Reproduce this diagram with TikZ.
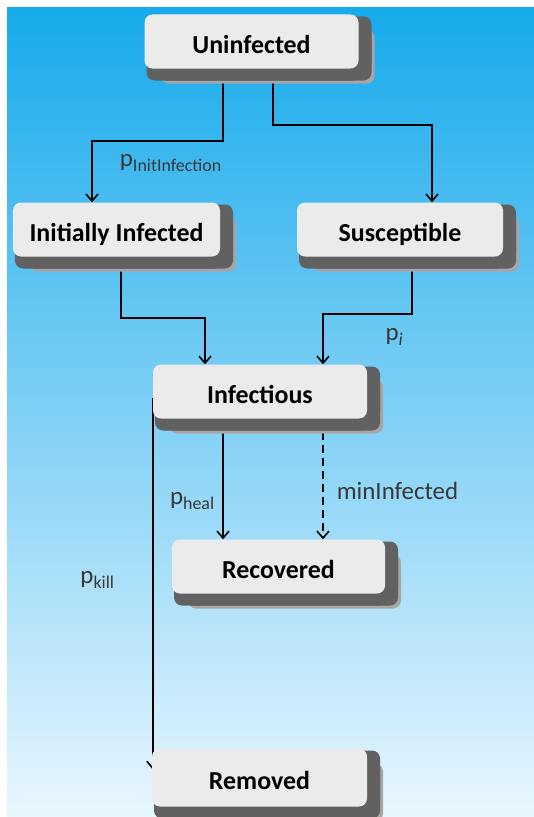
\documentclass[tikz,border=0pt]{standalone}
\usepackage{fontspec}
\setmainfont{Carlito}
\usetikzlibrary{shadows,arrows.meta}
\definecolor{skytop}{RGB}{22,170,236}
\definecolor{skymid}{RGB}{150,210,245}
\definecolor{skybot}{RGB}{233,246,254}
\definecolor{labelgray}{RGB}{55,55,55}
\newcommand{\lsub}[1]{\raisebox{-5bp}{\fontsize{18}{20}\selectfont #1}}
\pgfdeclarelayer{bg}
\pgfdeclarelayer{edges}
\pgfsetlayers{bg,edges,main}

\begin{document}
\begin{tikzpicture}[x=1bp,y=-1bp,
     >={Straight Barb[length=7bp,width=12bp]},
     shade1/.style = {fill=black!35, opacity=1},
     shade2/.style = {fill=black!62, opacity=1},
     button/.style = {rectangle, rounded corners=8bp, fill=black!8,
      minimum width=214bp, minimum height=54bp, inner sep=0pt,
      text height=30bp, text depth=6bp,
      font=\fontsize{26}{30}\selectfont\bfseries,
      drop shadow={shadow xshift=16bp, shadow yshift=-15bp, shade1},
      drop shadow={shadow xshift=13bp, shadow yshift=-2bp, shade2},
      drop shadow={shadow xshift=2bp, shadow yshift=-12bp, shade2},
      drop shadow={shadow xshift=13bp, shadow yshift=-12bp, shade2}},
     link/.style = {draw, ->, line width=1.6bp},
     prob/.style = {text=labelgray, font=\fontsize{25}{28}\selectfont, inner sep=2bp}
    ]
    \useasboundingbox (0,0) rectangle (534,817);

    \node [button] (unin) at (251.5,41.5) {Uninfected};
    \node [button, minimum width=207bp, below of=unin, node distance=188bp, xshift=-135bp] (initinf) {Initially Infected};
    \node [button, minimum width=206bp, right of=initinf, node distance=283.5bp] (susc) {Susceptible};
    \node [button, below of=initinf, node distance=162bp, xshift=143.5bp] (infect) {Infectious};
    \node [button, minimum width=213bp, below of=infect, node distance=175bp, xshift=18.5bp] (recov) {Recovered};
    \node [button, minimum width=215bp, minimum height=58bp, below of=recov, node distance=211bp, xshift=-19bp] (remov) {Removed};

    \begin{pgfonlayer}{bg}
    \fill[white] (0,0) rectangle (534,817);
    \shade[top color=skytop, middle color=skymid, bottom color=skybot] (7,8) rectangle (534,817);
    \end{pgfonlayer}

    \begin{pgfonlayer}{edges}
    \draw[link] ([xshift=-28.5bp]unin.south) -- ++(0,72) -| node [prob, pos=0.2, below=11bp] {p\lsub{InitInfection}} ([xshift=-24.5bp]initinf.north);
    \draw[link] ([xshift=21.5bp]unin.south) -- ++(0,56.5) -| ([xshift=32bp]susc.north);
    \draw[link] ([xshift=4.5bp]initinf.south) -- ++(0,61.5) -| ([xshift=-55bp]infect.north);
    \draw[link] ([xshift=12bp]susc.south) -- ++(0,57.5) -| node [prob, pos=0.1, below=11bp] {p\lsub{\itshape i}} ([xshift=63bp]infect.north);
    \draw[link] ([xshift=-37bp]infect.south) -- node [prob, pos=0.68, left=6bp] {p\lsub{heal}} ([xshift=-37bp]infect.south |- recov.north);
    \draw[link, dash pattern=on 8bp off 5bp] ([xshift=63bp]infect.south) -- node [prob, pos=0.6, right=11bp] {minInfected} ([xshift=63bp]infect.south |- recov.north);
    \draw[link] ([yshift=-6bp]infect.west) -- node [prob, pos=0.49, left=36bp] {p\lsub{kill}} ([yshift=8bp]infect.west |- remov.west);
    \end{pgfonlayer}

\end{tikzpicture}
\end{document}
